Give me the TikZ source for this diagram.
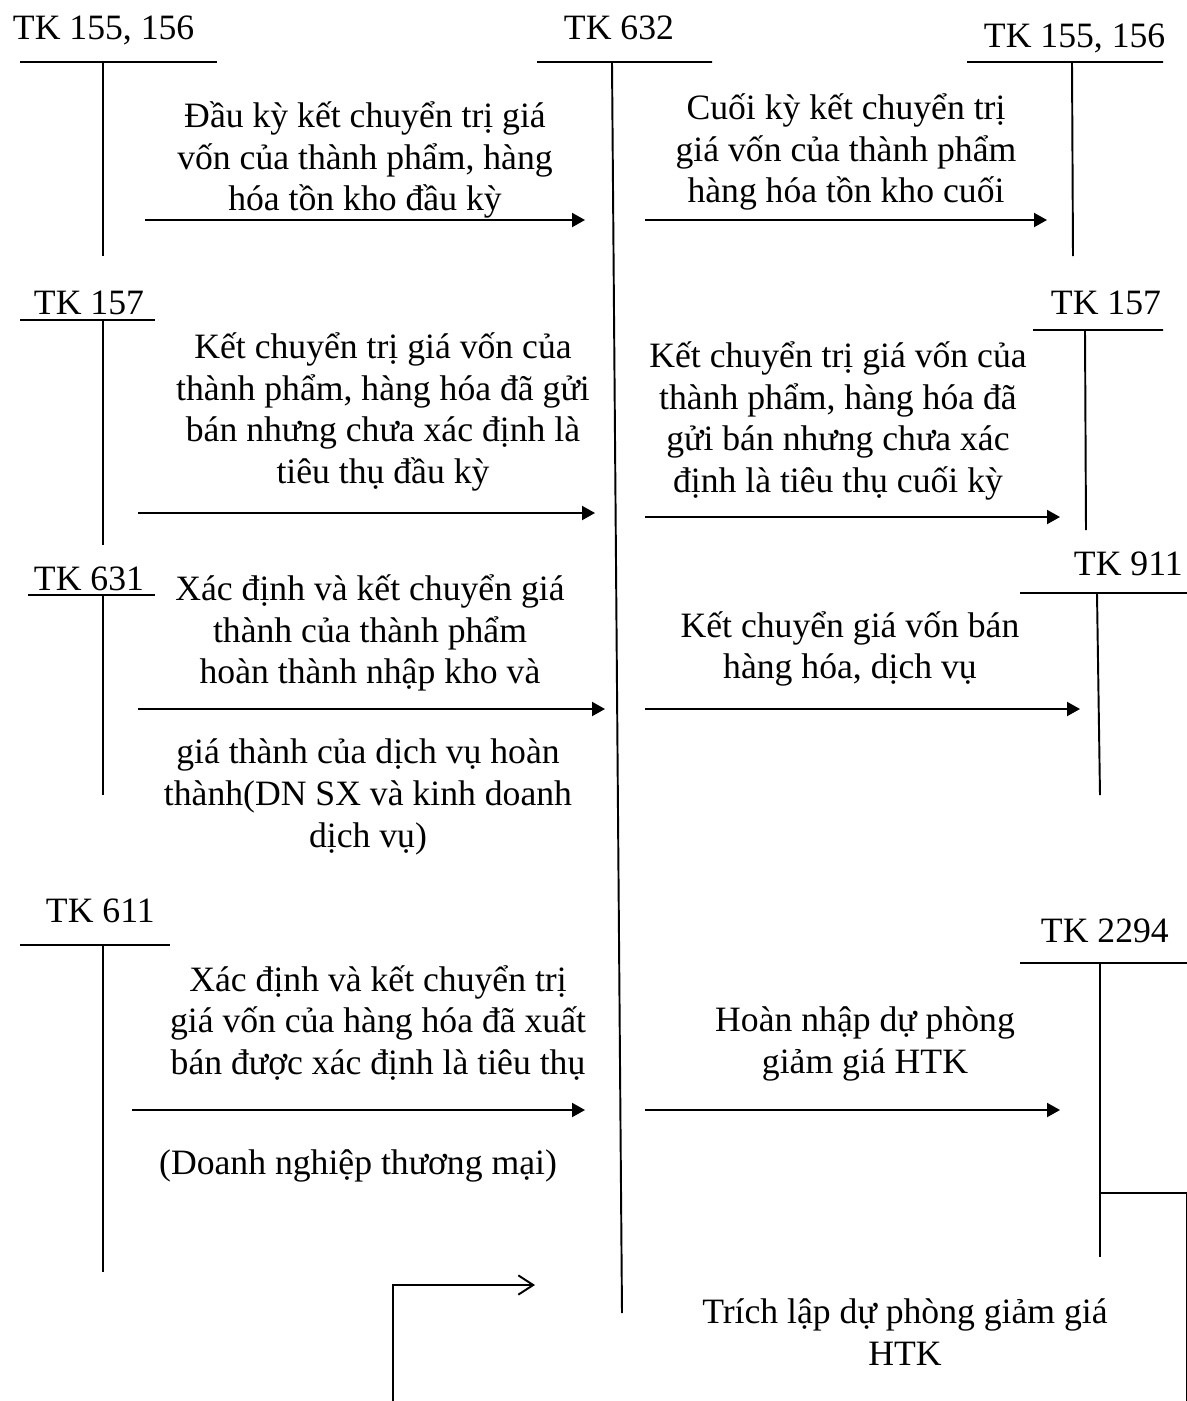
\documentclass[tikz,border=0pt]{standalone}
\usepackage{fontspec}
\setmainfont{Liberation Serif}
\usetikzlibrary{arrows.meta}

\begin{document}
\begin{tikzpicture}[
    x=0.02cm, y=-0.02cm,
    line width=1.1pt,
    every node/.style={font=\fontsize{20.3}{23.8}\selectfont, inner sep=0pt},
    acc/.style={anchor=base west},
    txt/.style={align=center},
    flow/.style={-{Triangle[length=7.4pt, width=8pt]}},
    back/.style={-{Straight Barb[length=8.5pt, width=11pt]}}
]
\useasboundingbox (0,0) rectangle (1187,1401);

% account labels
\node[acc] (tk155a) at (12,39) {TK 155, 156};
\node[acc] (tk632) at (563,39) {TK 632};
\node[acc] (tk155b) at (983,47) {TK 155, 156};
\node[acc] (tk157a) at (33,314) {TK 157};
\node[acc] (tk157b) at (1050,314) {TK 157};
\node[acc] (tk631) at (33,590) {TK 631};
\node[acc] (tk911) at (1073,575) {TK 911};
\node[acc] (tk611) at (45,922) {TK 611};
\node[acc] (tk2294) at (1040,942) {TK 2294};

% T accounts
\draw (20,62) -- (217,62) (103,62) -- (103,256);
\draw (537,62) -- (712,62) (612,62) -- (622,1313);
\draw (967,62) -- (1163,62) (1072,62) -- (1073,256);
\draw (20,320) -- (155,320) (103,320) -- (103,545);
\draw (1033,330) -- (1163,330) (1085,330) -- (1086,530);
\draw (28,595) -- (155,595) (103,595) -- (103,795);
\draw (1020,593) -- (1187,593) (1097,593) -- (1100,795);
\draw (20,945) -- (170,945) (103,945) -- (103,1272);
\draw (1020,963) -- (1187,963) (1100,963) -- (1100,1257);
\draw (1100,1193) -- (1187,1193) -- (1187,1401);

% texts
\node[txt] (t1) at (365,160) {Đầu kỳ kết chuyển trị giá\\vốn của thành phẩm, hàng\\hóa tồn kho đầu kỳ};
\node[txt] (t2) at (846,152) {Cuối kỳ kết chuyển trị\\giá vốn của thành phẩm\\hàng hóa tồn kho cuối};
\node[txt] (t3) at (383,412) {Kết chuyển trị giá vốn của\\thành phẩm, hàng hóa đã gửi\\bán nhưng chưa xác định là\\tiêu thụ đầu kỳ};
\node[txt] (t4) at (838,421) {Kết chuyển trị giá vốn của\\thành phẩm, hàng hóa đã\\gửi bán nhưng chưa xác\\định là tiêu thụ cuối kỳ};
\node[txt] (t5) at (370,633) {Xác định và kết chuyển giá\\thành của thành phẩm\\hoàn thành nhập kho và};
\node[txt] (t6) at (368,797) {giá thành của dịch vụ hoàn\\thành(DN SX và kinh doanh\\dịch vụ)};
\node[txt] (t7) at (850,649) {Kết chuyển giá vốn bán\\hàng hóa, dịch vụ};
\node[txt] (t8) at (378,1023) {Xác định và kết chuyển trị\\giá vốn của hàng hóa đã xuất\\bán được xác định là tiêu thụ};
\node[txt] (t9) at (358,1166) {(Doanh nghiệp thương mại)};
\node[txt] (t10) at (865,1044) {Hoàn nhập dự phòng\\giảm giá HTK};
\node[txt] (t11) at (905,1332) {Trích lập dự phòng giảm giá\\HTK};

% arrow ends
\coordinate (a1s) at (145,220); \coordinate (a1e) at (585,220);
\coordinate (a2s) at (645,220); \coordinate (a2e) at (1047,220);
\coordinate (a3s) at (138,513); \coordinate (a3e) at (595,513);
\coordinate (a4s) at (645,517); \coordinate (a4e) at (1060,517);
\coordinate (a5s) at (138,709); \coordinate (a5e) at (605,709);
\coordinate (a6s) at (645,709); \coordinate (a6e) at (1080,709);
\coordinate (a7s) at (132,1110); \coordinate (a7e) at (585,1110);
\coordinate (a8s) at (645,1110); \coordinate (a8e) at (1060,1110);
\coordinate (a9s) at (393,1401); \coordinate (a9e) at (535,1285);

\draw[flow] (a1s) -- (a1e);
\draw[flow] (a2s) -- (a2e);
\draw[flow] (a3s) -- (a3e);
\draw[flow] (a4s) -- (a4e);
\draw[flow] (a5s) -- (a5e);
\draw[flow] (a6s) -- (a6e);
\draw[flow] (a7s) -- (a7e);
\draw[flow] (a8s) -- (a8e);
\draw[back] (a9s) |- (a9e);

\end{tikzpicture}
\end{document}
